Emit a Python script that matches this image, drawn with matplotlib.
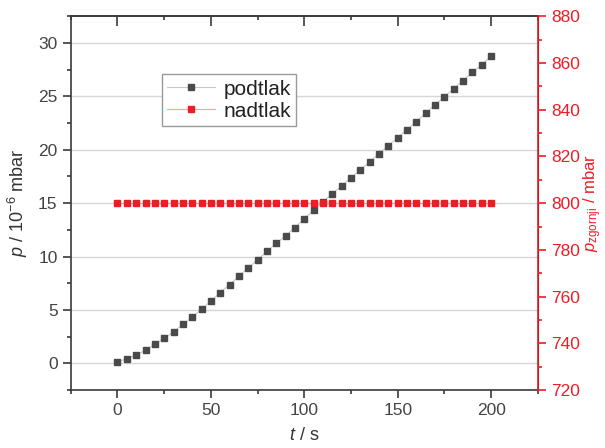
import matplotlib
matplotlib.use('Agg')
import matplotlib.pyplot as plt

plt.rcParams['font.family'] = ['Liberation Sans', 'DejaVu Sans']
plt.rcParams['mathtext.fontset'] = 'custom'
plt.rcParams['mathtext.rm'] = 'Liberation Sans'
plt.rcParams['mathtext.it'] = 'Liberation Sans:italic'

# time in s
t = [0, 5, 10, 15, 20, 25, 30, 35, 40, 45, 50, 55, 60, 65, 70, 75, 80, 85, 90, 95,
     100, 105, 110, 115, 120, 125, 130, 135, 140, 145, 150, 155, 160, 165, 170, 175,
     180, 185, 190, 195, 200]

# podtlak, 10^-6 mbar
podtlak = [0.16, 0.44, 0.78, 1.25, 1.81, 2.37, 2.96, 3.65, 4.33, 5.08, 5.83, 6.64,
           7.39, 8.17, 8.95, 9.70, 10.48, 11.23, 11.97, 12.72, 13.54, 14.34, 15.13,
           15.87, 16.62, 17.37, 18.12, 18.87, 19.64, 20.39, 21.14, 21.89, 22.64,
           23.42, 24.20, 24.95, 25.72, 26.47, 27.25, 27.97, 28.75]

# nadtlak (zgornji), mbar
nadtlak = [800] * len(t)

red = '#ee1c25'
dark = '#3a3a3a'

fig = plt.figure(figsize=(6.05, 4.48), dpi=100)
ax = fig.add_axes([0.117, 0.129, 0.772, 0.835])
ax2 = ax.twinx()

ax.grid(axis='y', color='#d6d6d6', lw=1)
ax.set_axisbelow(True)

l1, = ax.plot(t, podtlak, color='#c8c8c8', lw=0.8, marker='s', ms=5,
              mfc='#4a4a4a', mec='#4a4a4a', label='podtlak')
l2, = ax2.plot(t, nadtlak, color='#f5a3a3', lw=0.8, marker='s', ms=5,
               mfc=red, mec=red, label='nadtlak')

ax.set_xlim(-25, 225)
ax.set_ylim(-2.5, 32.5)
ax2.set_ylim(720, 880)

ax.set_xticks([0, 50, 100, 150, 200])
ax.set_xticks([-25, 25, 75, 125, 175, 225], minor=True)
ax.set_yticks([0, 5, 10, 15, 20, 25, 30])
ax.set_yticks([-2.5, 2.5, 7.5, 12.5, 17.5, 22.5, 27.5, 32.5], minor=True)
ax2.set_yticks([720, 740, 760, 780, 800, 820, 840, 860, 880])
ax2.set_yticks([730, 750, 770, 790, 810, 830, 850, 870], minor=True)

ax.tick_params(axis='both', which='major', labelsize=12.5, colors=dark,
               direction='out', length=6, width=1.2)
ax.tick_params(axis='both', which='minor', colors=dark, direction='out',
               length=3, width=1.2)
ax.tick_params(axis='both', labelcolor='#444444')

# mirrored top axis with inward ticks
top = ax.secondary_xaxis('top')
top.set_xticks([0, 50, 100, 150, 200])
top.set_xticks([-25, 25, 75, 125, 175, 225], minor=True)
top.tick_params(which='major', direction='in', length=7, width=1.2, colors=dark,
                labeltop=False)
top.tick_params(which='minor', direction='in', length=3, width=1.2, colors=dark)
top.spines['top'].set_color(dark)
top.spines['top'].set_linewidth(1.2)

ax2.tick_params(axis='y', which='major', labelsize=12.5, colors=red,
                direction='out', length=6, width=1.2)
ax2.tick_params(axis='y', which='minor', colors=red, direction='out',
                length=3, width=1.2)

for s in ['left', 'bottom', 'top']:
    ax.spines[s].set_color(dark)
    ax.spines[s].set_linewidth(1.2)
ax2.spines['right'].set_color(red)
ax2.spines['right'].set_linewidth(1.2)
for s in ['left', 'bottom', 'top']:
    ax2.spines[s].set_visible(False)

ax.set_xlabel(r'$t$ / s', fontsize=13, color='#333333', labelpad=6)
ax.set_ylabel(r'$p$ / 10$^{-6}$ mbar', fontsize=13, color='#333333', labelpad=6)
ax2.set_ylabel(r'$p_{\mathrm{zgornji}}$ / mbar', fontsize=12, color=red,
               ha='center', va='center', rotation=90)
ax2.yaxis.set_label_coords(1.117, 0.5)

leg = ax2.legend(handles=[l1, l2], loc='upper left', bbox_to_anchor=(0.195, 0.845),
                 borderaxespad=0, fontsize=15, fancybox=False, framealpha=1,
                 edgecolor='#999999', handlelength=2.3, borderpad=0.25,
                 labelspacing=0.15, handletextpad=0.4, handleheight=0.8)
leg.get_frame().set_linewidth(1)
for txt in leg.get_texts():
    txt.set_color('#222222')

fig.savefig('out.png', dpi=100)
